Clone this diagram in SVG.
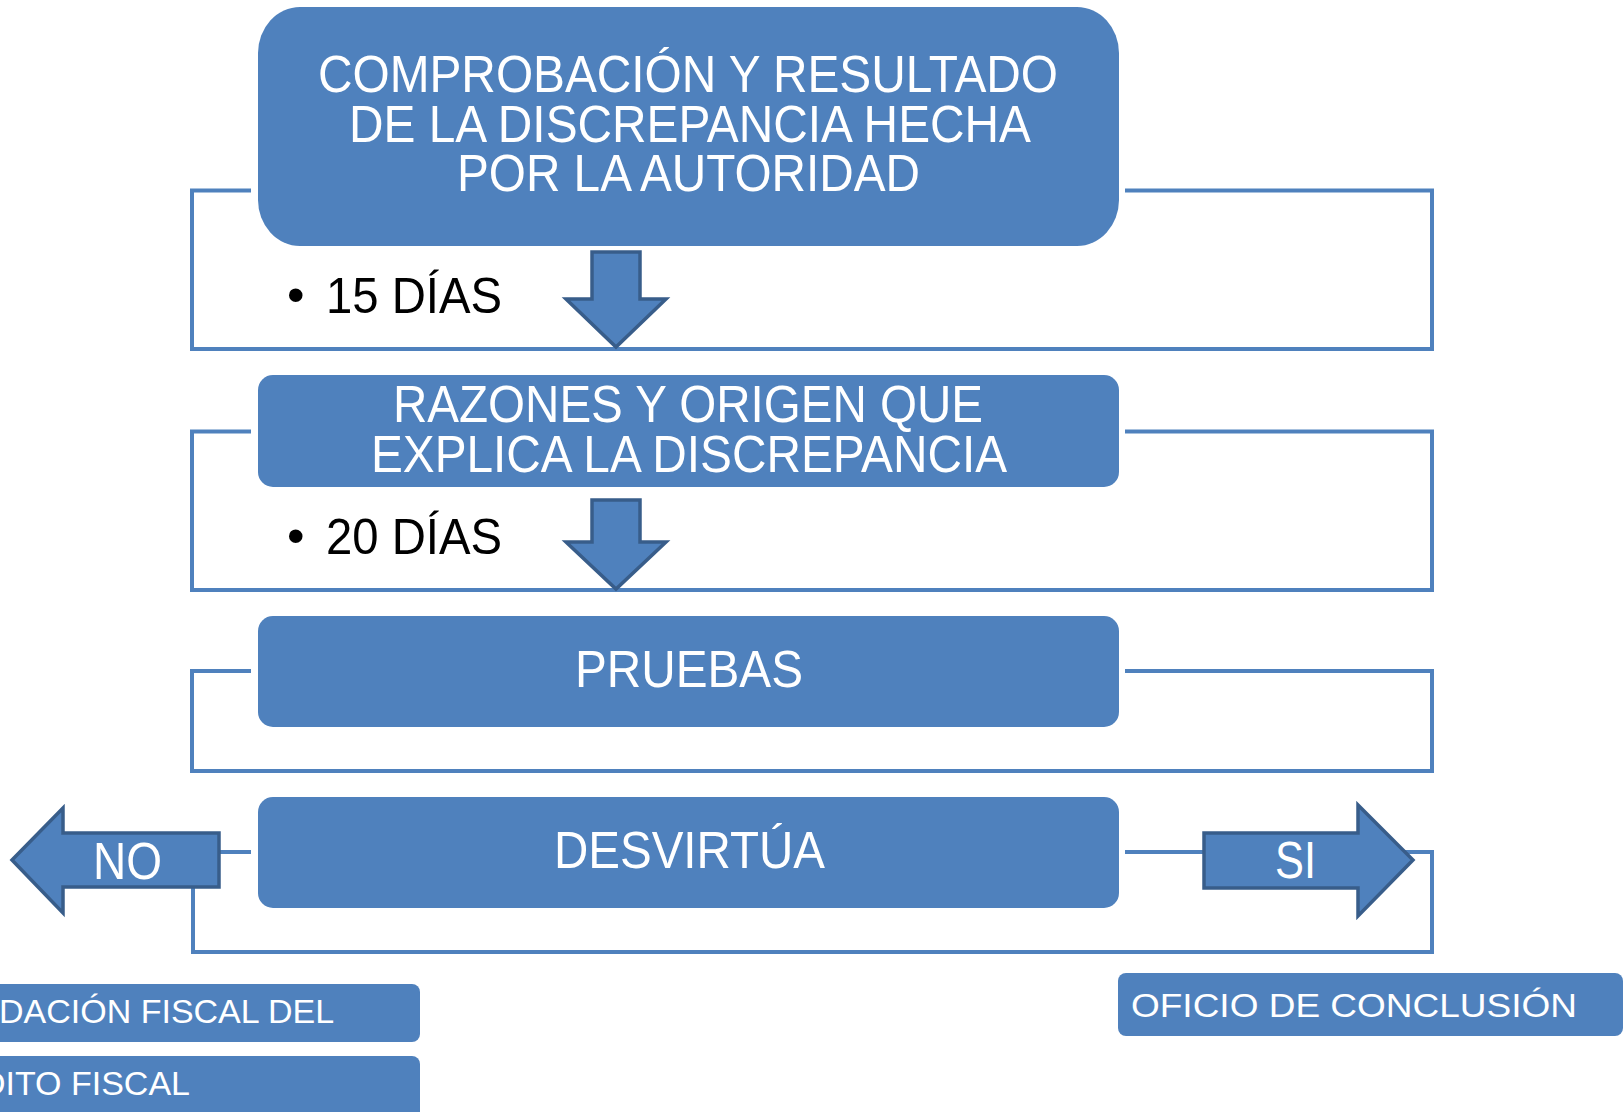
<svg xmlns="http://www.w3.org/2000/svg" width="1624" height="1112" viewBox="0 0 1624 1112">
<style>
.box{fill:#4F81BD;}
.conn{fill:none;stroke:#4F81BD;stroke-width:4;stroke-linejoin:miter;}
.arrow{fill:#4F81BD;stroke:#385D8A;stroke-width:3.5;stroke-linejoin:miter;}
.t{font-family:"Liberation Sans",Arial,sans-serif;fill:#FFFFFF;font-size:51px;text-anchor:middle;}
.tl{font-family:"Liberation Sans",Arial,sans-serif;fill:#FFFFFF;font-size:34px;}
.b{font-family:"Liberation Sans",Arial,sans-serif;fill:#000000;font-size:50px;}
</style>
<rect width="1624" height="1112" fill="#FFFFFF"/>
<g id="connectors">
<path class="conn" d="M251,190.5 H192 V349 H1432 V190.5 H1125"/>
<path class="conn" d="M251,431.5 H192 V590 H1432 V431.5 H1125"/>
<path class="conn" d="M251,671 H192 V771 H1432 V671 H1125"/>
<path class="conn" d="M251,852 H193 V952 H1432 V852 H1400"/>
<path class="conn" d="M1125,852 H1210"/>
</g>
<g id="node-comprobacion">
<rect class="box" x="258" y="7" width="861" height="239" rx="42" ry="46"/>
<text class="t" x="688" y="92" textLength="740" lengthAdjust="spacingAndGlyphs">COMPROBACIÓN Y RESULTADO</text>
<text class="t" x="690" y="142" textLength="682" lengthAdjust="spacingAndGlyphs">DE LA DISCREPANCIA HECHA</text>
<text class="t" x="688.5" y="191" textLength="463" lengthAdjust="spacingAndGlyphs">POR LA AUTORIDAD</text>
</g>
<g id="label-15dias">
<text class="b" x="287" y="312" font-size="40">•</text>
<text class="b" x="326" y="313" textLength="176" lengthAdjust="spacingAndGlyphs">15 DÍAS</text>
</g>
<g id="arrow-down-1">
<polygon class="arrow" points="592,252 640,252 640,299 666,299 616,347 566,299 592,299"/>
</g>
<g id="node-razones">
<rect class="box" x="258" y="375" width="861" height="112" rx="15"/>
<text class="t" x="688" y="422" textLength="590" lengthAdjust="spacingAndGlyphs">RAZONES Y ORIGEN QUE</text>
<text class="t" x="689" y="472" textLength="636" lengthAdjust="spacingAndGlyphs">EXPLICA LA DISCREPANCIA</text>
</g>
<g id="label-20dias">
<text class="b" x="287" y="553" font-size="40">•</text>
<text class="b" x="326" y="554" textLength="176" lengthAdjust="spacingAndGlyphs">20 DÍAS</text>
</g>
<g id="arrow-down-2">
<polygon class="arrow" points="592,500 640,500 640,542 666,542 616,589 566,542 592,542"/>
</g>
<g id="node-pruebas">
<rect class="box" x="258" y="616" width="861" height="111" rx="15"/>
<text class="t" x="689" y="687" textLength="228" lengthAdjust="spacingAndGlyphs">PRUEBAS</text>
</g>
<g id="node-desvirtua">
<rect class="box" x="258" y="797" width="861" height="111" rx="15"/>
<text class="t" x="689.5" y="868" textLength="271" lengthAdjust="spacingAndGlyphs">DESVIRTÚA</text>
</g>
<g id="arrow-no">
<polygon class="arrow" points="12,860 63,808 63,833 219,833 219,887 63,887 63,913"/>
<text class="t" x="127.5" y="879" textLength="69" lengthAdjust="spacingAndGlyphs">NO</text>
</g>
<g id="arrow-si">
<polygon class="arrow" points="1204,833 1358,833 1358,805 1413,860 1358,916 1358,888 1204,888"/>
<text class="t" x="1295.5" y="878" textLength="41" lengthAdjust="spacingAndGlyphs">SI</text>
</g>
<g id="node-liquidacion">
<rect class="box" x="-12" y="984" width="432" height="58" rx="8"/>
<text class="tl" x="-1" y="1023">DACIÓN FISCAL DEL</text>
</g>
<g id="node-credito">
<rect class="box" x="-12" y="1056" width="432" height="70" rx="8"/>
<text class="tl" x="190" y="1095" text-anchor="end">DITO FISCAL</text>
</g>
<g id="node-oficio">
<rect class="box" x="1118" y="973" width="505" height="63" rx="8"/>
<text class="tl" x="1131" y="1017" font-size="36.5" textLength="446" lengthAdjust="spacingAndGlyphs">OFICIO DE CONCLUSIÓN</text>
</g>
</svg>
